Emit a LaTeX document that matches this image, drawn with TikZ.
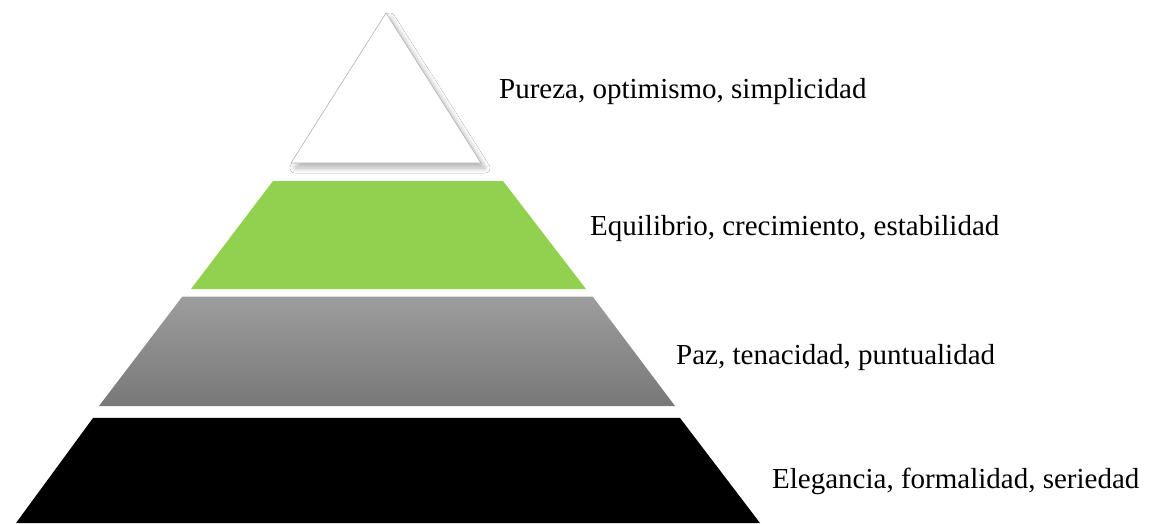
\documentclass[tikz,border=0pt]{standalone}
\usepackage{fontspec}
\setmainfont{Liberation Serif}
\usetikzlibrary{shadows, shadows.blur}

\definecolor{levelgreen}{RGB}{146,208,80}
\definecolor{levelgraytop}{RGB}{157,157,157}
\definecolor{levelgraybot}{RGB}{120,120,120}

\tikzset{
  level/.style={draw=none},
  levelgap/.style={draw=gray!25, line width=0.8pt},
}

\begin{document}
\begin{tikzpicture}[x=1pt, y=-1pt, font=\fontsize{29}{34}\selectfont]
  \useasboundingbox (0,0) rectangle (1153,523);
  \fill[white] (0,0) rectangle (1153,523);

  % pyramid levels
  \filldraw[draw=gray!60, fill=white, line width=0.6pt,
    blur shadow={shadow xshift=4pt, shadow yshift=-5pt, shadow blur radius=5pt,
      shadow blur steps=10, shadow opacity=30}]
    (386,13) -- (481,163) -- (291,163) -- cycle;
  \fill[level, levelgreen] (273,181) -- (503,181) -- (586,289) -- (191,289) -- cycle;
  \draw[levelgap] (182,296) -- (593,296);
  \shade[level, top color=levelgraytop, bottom color=levelgraybot]
    (182,297) -- (593,297) -- (675,406) -- (99,406) -- cycle;
  \draw[levelgap] (93,417) -- (680,417);
  \fill[level, black] (93,418) -- (680,418) -- (760,523) -- (16,523) -- cycle;

  % labels
  \foreach \Y/\X/\T in {  98/499/{Pureza, optimismo, simplicidad},
                         235/590/{Equilibrio, crecimiento, estabilidad},
                         364/676/{Paz, tenacidad, puntualidad},
                         488/772/{Elegancia, formalidad, seriedad}
  } {
  \node[anchor=base west, inner sep=0pt](label\Y) at (\X,\Y) {\T};
  }
\end{tikzpicture}
\end{document}
